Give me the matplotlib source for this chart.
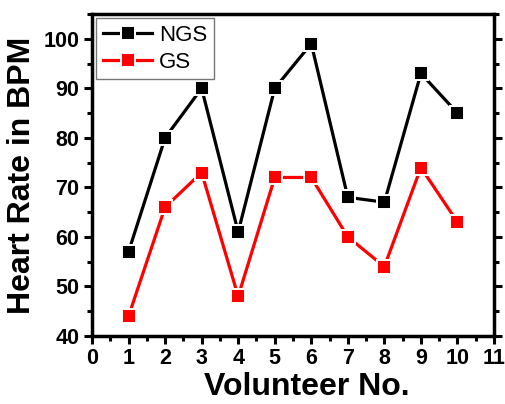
import matplotlib.pyplot as plt
from matplotlib.ticker import MultipleLocator

plt.rcParams['font.family'] = ['Liberation Sans', 'DejaVu Sans']

# Heart rate per volunteer
volunteers = [1, 2, 3, 4, 5, 6, 7, 8, 9, 10]
ngs = [57, 80, 90, 61, 90, 99, 68, 67, 93, 85]
gs = [44, 66, 73, 48, 72, 72, 60, 54, 74, 63]

fig = plt.figure(figsize=(5.05, 4.04), dpi=100)
ax = fig.add_axes([92 / 505, 68 / 404, 402 / 505, 322 / 404])

ax.plot(volunteers, ngs, color='black', lw=2.3, marker='s', markersize=10,
        markeredgecolor='white', markeredgewidth=1.4, label='NGS')
ax.plot(volunteers, gs, color='red', lw=2.3, marker='s', markersize=10,
        markeredgecolor='white', markeredgewidth=1.4, label='GS')

ax.set_xlim(0, 11)
ax.set_ylim(40, 105)
ax.xaxis.set_major_locator(MultipleLocator(1))
ax.xaxis.set_minor_locator(MultipleLocator(0.5))
ax.yaxis.set_major_locator(MultipleLocator(10))
ax.yaxis.set_minor_locator(MultipleLocator(5))

for s in ax.spines.values():
    s.set_linewidth(2.5)

ax.tick_params(which='major', direction='out', length=6, width=2.2,
               labelsize=15.5, pad=3, right=True, top=False)
ax.tick_params(which='minor', direction='out', length=3.5, width=2.2,
               right=True, top=False)
for lbl in ax.get_xticklabels() + ax.get_yticklabels():
    lbl.set_fontweight('bold')

ax.set_xlabel('Volunteer No.', fontsize=23, fontweight='bold')
ax.xaxis.set_label_coords(0.535, -0.112)
ax.set_ylabel('Heart Rate in BPM', fontsize=23, fontweight='bold', labelpad=5)

leg = ax.legend(loc='upper left', fontsize=16, frameon=True, fancybox=False,
                edgecolor='#555555', handlelength=2.2, borderaxespad=0.2,
                borderpad=0.3, labelspacing=0.25, handletextpad=0.3)
leg.get_frame().set_linewidth(1.0)

fig.savefig('out.png', dpi=100)
